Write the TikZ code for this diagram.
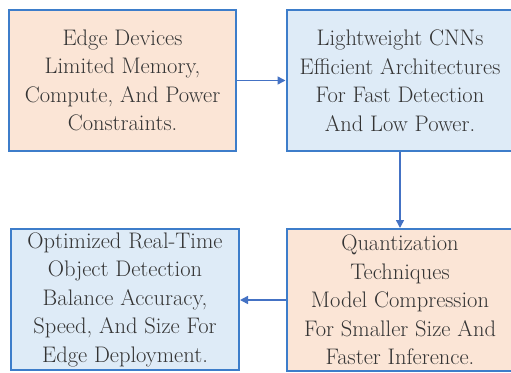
\documentclass[tikz,border=0pt]{standalone}
\usetikzlibrary{arrows.meta}
\definecolor{boxline}{RGB}{61,125,202}
\definecolor{arrowline}{RGB}{68,114,196}
\definecolor{peach}{RGB}{251,229,214}
\definecolor{paleblue}{RGB}{222,235,247}
\definecolor{textgray}{RGB}{52,52,52}
\tikzset{
  card/.style={draw=boxline, line width=2pt, align=center, text=textgray,
    inner sep=0pt, minimum width=227pt, minimum height=141pt,
    font=\fontsize{22.5}{28.5}\selectfont},
  warm/.style={card, fill=peach},
  cool/.style={card, fill=paleblue},
  flow/.style={draw=arrowline, line width=1.5pt, -{Triangle[length=8pt,width=8pt]}}
}
\begin{document}
\begin{tikzpicture}[x=1pt,y=-1pt]
\useasboundingbox (0,0) rectangle (511,372);
\node[warm] (edge) at (122.5,80.5) {Edge Devices\\Limited Memory,\\Compute, And Power\\Constraints.};
\node[cool] (cnn) at (400,80.5) {Lightweight CNNs\\Efficient Architectures\\For Fast Detection\\And Low Power.};
\node[warm, minimum height=142pt] (quant) at (400,300) {Quantization\\Techniques\\Model Compression\\For Smaller Size And\\Faster Inference.};
\node[cool, minimum width=228pt] (opt) at (125,299.5) {Optimized Real-Time\\Object Detection\\Balance Accuracy,\\Speed, And Size For\\Edge Deployment.};
\draw[flow] (edge.east) -- (cnn.west);
\draw[flow] (cnn.south) -- (quant.north);
\draw[flow] (quant.west) -- (opt.east |- quant.west);
\end{tikzpicture}
\end{document}
